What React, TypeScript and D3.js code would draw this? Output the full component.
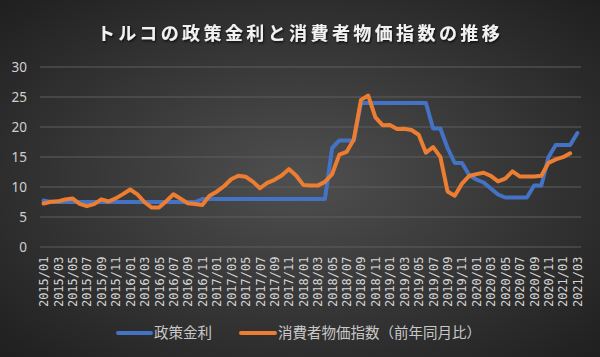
import React from "react";
import * as d3 from "d3";

const title = "トルコの政策金利と消費者物価指数の推移";
const seriesNames = ["政策金利", "消費者物価指数（前年同月比）"];

const months: string[] = [];
for (let y = 2015; y <= 2021; y++) {
  for (let m = 1; m <= 12; m++) {
    if (y === 2021 && m > 3) break;
    months.push(`${y}/${String(m).padStart(2, "0")}`);
  }
}

const policyRate = [
  7.75, 7.5, 7.5, 7.5, 7.5, 7.5, 7.5, 7.5, 7.5, 7.5, 7.5, 7.5,
  7.5, 7.5, 7.5, 7.5, 7.5, 7.5, 7.5, 7.5, 7.5, 7.5, 8.0, 8.0,
  8.0, 8.0, 8.0, 8.0, 8.0, 8.0, 8.0, 8.0, 8.0, 8.0, 8.0, 8.0,
  8.0, 8.0, 8.0, 8.0, 16.5, 17.75, 17.75, 17.75, 24.0, 24.0, 24.0, 24.0,
  24.0, 24.0, 24.0, 24.0, 24.0, 24.0, 19.75, 19.75, 16.5, 14.0, 14.0, 12.0,
  11.25, 10.75, 9.75, 8.75, 8.25, 8.25, 8.25, 8.25, 10.25, 10.25, 15.0, 17.0,
  17.0, 17.0, 19.0,
];

const cpi = [
  7.24, 7.55, 7.61, 7.91, 8.09, 7.2, 6.81, 7.14, 7.95, 7.58, 8.1, 8.81,
  9.58, 8.78, 7.46, 6.57, 6.58, 7.64, 8.79, 8.05, 7.28, 7.16, 7.0, 8.53,
  9.22, 10.13, 11.29, 11.87, 11.72, 10.9, 9.79, 10.68, 11.2, 11.9, 12.98, 11.92,
  10.35, 10.26, 10.23, 10.85, 12.15, 15.39, 15.85, 17.9, 24.52, 25.24, 21.62, 20.3,
  20.35, 19.67, 19.71, 19.5, 18.71, 15.72, 16.65, 15.01, 9.26, 8.55, 10.56, 11.84,
  12.15, 12.37, 11.86, 10.94, 11.39, 12.62, 11.76, 11.77, 11.75, 11.89, 14.03, 14.6,
  14.97, 15.61,
];

const yTicks = [0, 5, 10, 15, 20, 25, 30];
const colors = ["#4472c4", "#ed7d31"];

export default function App() {
  const W = 600, H = 357;
  const left = 40, right = 581, top = 67, bottom = 247;
  const x = d3.scalePoint<string>().domain(months).range([left, right]).padding(0.5);
  const y = d3.scaleLinear().domain([0, 30]).range([bottom, top]);
  const line = d3
    .line<number>()
    .x((_, i) => x(months[i]) as number)
    .y((d) => y(d));
  const labelMonths = months.filter((_, i) => i % 2 === 0);
  const jp = "'Noto Sans CJK JP', 'Noto Sans', sans-serif";

  return (
    <svg width={W} height={H} style={{ display: "block", position: "absolute", left: 0, top: 0 }}>
      <defs>
        <radialGradient id="bg" cx="50%" cy="50%" r="75%">
          <stop offset="0%" stopColor="#4f4f4f" />
          <stop offset="100%" stopColor="#1c1c1c" />
        </radialGradient>
        <filter id="shadow" x="-10%" y="-50%" width="120%" height="200%">
          <feDropShadow dx="1" dy="1.5" stdDeviation="1" floodColor="#000" floodOpacity="0.7" />
        </filter>
      </defs>
      <rect x={0} y={0} width={W} height={H} fill="url(#bg)" />
      <text
        x={W / 2}
        y={40}
        textAnchor="middle"
        fill="#f2f2f2"
        fontFamily={jp}
        fontWeight="bold"
        fontSize={18}
        letterSpacing={3.4}
        filter="url(#shadow)"
      >
        {title}
      </text>
      {yTicks.map((t) => (
        <g key={t}>
          <line x1={left} x2={right} y1={y(t)} y2={y(t)} stroke="#5e5e5e" strokeWidth={1} />
          <text
            x={27}
            y={y(t) + 4.5}
            textAnchor="end"
            fill="#d0d0d0"
            fontFamily="'Noto Sans', sans-serif"
            fontSize={13.5}
          >
            {t}
          </text>
        </g>
      ))}
      {labelMonths.map((m) => (
        <text
          key={m}
          transform={`translate(${(x(m) as number) + 4.5},${bottom + 9.5}) rotate(-90)`}
          textAnchor="end"
          fill="#d6d6d6"
          fontFamily="'DejaVu Sans Mono', 'Liberation Mono', monospace"
          fontSize={12}
        >
          {m}
        </text>
      ))}
      <path d={line(policyRate) || ""} fill="none" stroke={colors[0]} strokeWidth={4} strokeLinejoin="round" strokeLinecap="round" />
      <path d={line(cpi) || ""} fill="none" stroke={colors[1]} strokeWidth={4} strokeLinejoin="round" strokeLinecap="round" />
      <g>
        <line x1={118} x2={151} y1={333} y2={333} stroke={colors[0]} strokeWidth={4} strokeLinecap="round" />
        <text x={154} y={338} fill="#c8c8c8" fontFamily={jp} fontSize={14.5}>
          {seriesNames[0]}
        </text>
        <line x1={241} x2={275} y1={333} y2={333} stroke={colors[1]} strokeWidth={4} strokeLinecap="round" />
        <text x={278} y={338} fill="#c8c8c8" fontFamily={jp} fontSize={14.5}>
          {seriesNames[1]}
        </text>
      </g>
    </svg>
  );
}
